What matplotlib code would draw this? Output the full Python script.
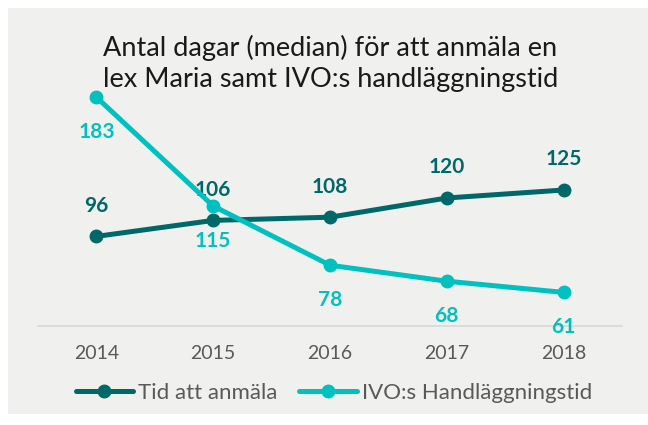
import matplotlib
matplotlib.use("Agg")
import matplotlib.pyplot as plt
from matplotlib.patches import Rectangle

plt.rcParams['font.family'] = ['Lato', 'DejaVu Sans']

years = ['2014', '2015', '2016', '2017', '2018']
tid_anmala = [96, 106, 108, 120, 125]
ivo_handlaggning = [183, 115, 78, 68, 61]

dark = '#006868'
teal = '#00c1bf'
bg = '#f0f0ef'

fig = plt.figure(figsize=(6.48, 4.25), dpi=100, facecolor='white')
# grey panel behind the chart
fig.patches.append(Rectangle((8 / 648, 11 / 425), 1, 406 / 425, transform=fig.transFigure,
                             facecolor=bg, edgecolor='none', zorder=-10))

ax = fig.add_axes([38 / 648, 99 / 425, 584 / 648, 256 / 425])
ax.set_facecolor('none')

x = list(range(len(years)))
ax.plot(x, tid_anmala, color=dark, lw=3.6, marker='o', ms=9, label='Tid att anmäla',
        solid_capstyle='round', zorder=3)
ax.plot(x, ivo_handlaggning, color=teal, lw=3.6, marker='o', ms=9,
        label='IVO:s Handläggningstid', solid_capstyle='round', zorder=4)

for xi, v in zip(x, tid_anmala):
    ax.annotate(str(v), (xi, v), xytext=(0, 22), textcoords='offset points',
                ha='center', va='center', color=dark, fontsize=15, fontweight='bold')
for xi, v in zip(x, ivo_handlaggning):
    ax.annotate(str(v), (xi, v), xytext=(0, -25), textcoords='offset points',
                ha='center', va='center', color=teal, fontsize=15, fontweight='bold')

ax.set_xlim(-0.5, len(years) - 0.5)
ax.set_ylim(40, 200)
ax.set_xticks(x)
ax.set_xticklabels(years)
ax.set_yticks([])
for s in ['top', 'right', 'left']:
    ax.spines[s].set_visible(False)
ax.spines['bottom'].set_color('#d9d9d9')
ax.spines['bottom'].set_linewidth(1.2)
ax.tick_params(axis='x', length=0, pad=14, labelsize=14, labelcolor='#595959')

fig.text(0.51, (425 - 63) / 425, 'Antal dagar (median) för att anmäla en\nlex Maria samt IVO:s handläggningstid',
         ha='center', va='center', fontsize=19.5, color='#1a1a1a', linespacing=1.3)

fig.legend(loc='center', bbox_to_anchor=(0.515, (425 - 393) / 425), ncol=2, frameon=False,
           fontsize=16, labelcolor='#595959', handlelength=2.6, handletextpad=0.2,
           columnspacing=1.0, borderaxespad=0)

fig.savefig('out.png', dpi=100, facecolor='white')
